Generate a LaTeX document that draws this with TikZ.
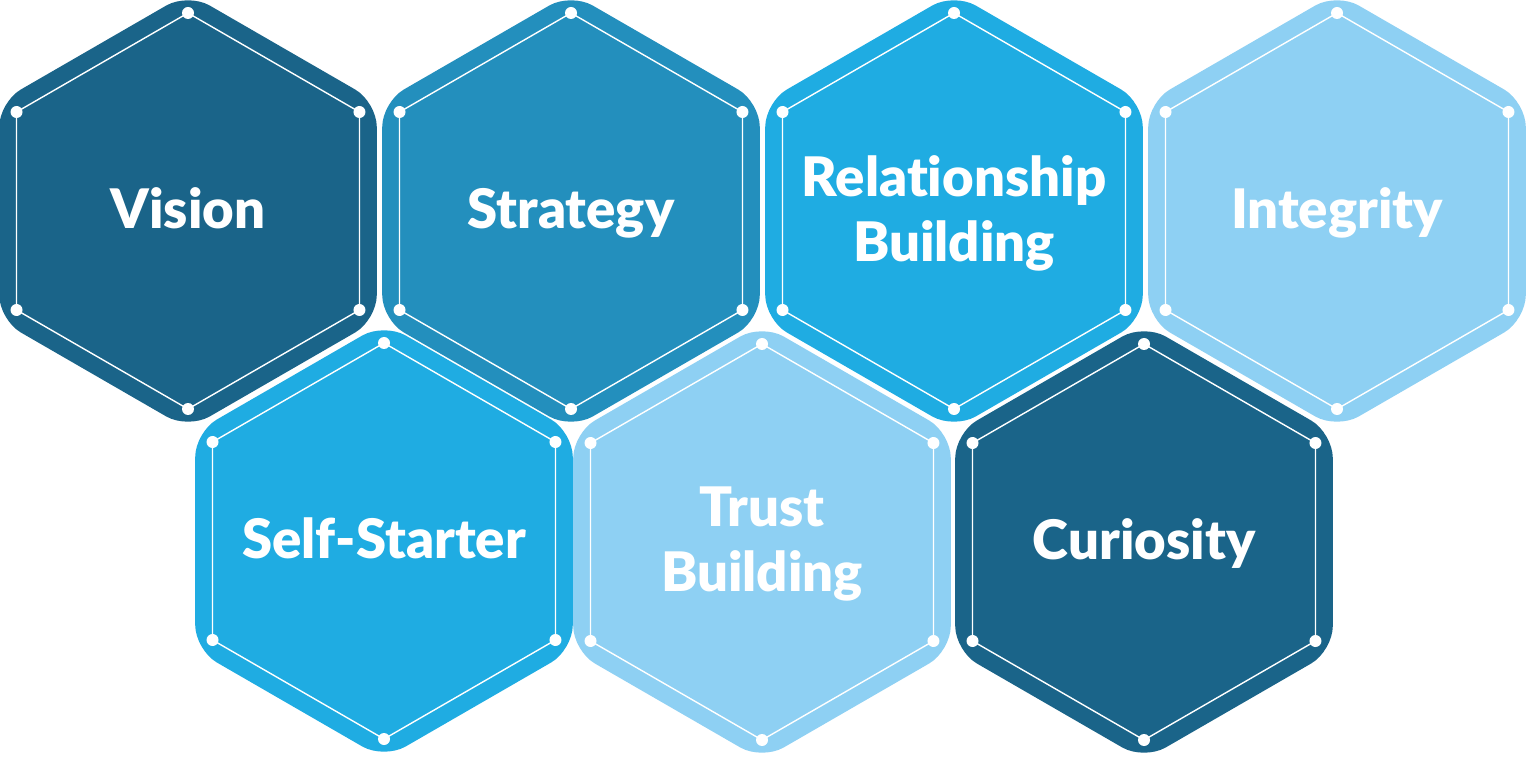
\documentclass[tikz,border=0pt]{standalone}
\usepackage{fontspec}
\setmainfont{Lato}[BoldFont={Lato Black}, Ligatures={NoCommon}]
\usepackage{xcolor}

\definecolor{hexdark}{HTML}{1A6489}
\definecolor{hexmid}{HTML}{238FBD}
\definecolor{hexbright}{HTML}{1FACE2}
\definecolor{hexlight}{HTML}{8ED0F3}

\begin{document}
\begin{tikzpicture}[
					outerhex/.style={rounded corners=5mm},
					innerhex/.style={draw=white, line width=0.8pt},
					hexdot/.style={fill=white},
					celltext/.style={text=white, font=\bfseries\fontsize{31}{37}\selectfont, align=center, text depth=0pt, inner sep=0pt}]
					\useasboundingbox (0,0) rectangle (30.6,15.12);
					
					\foreach \name/\x/\y/\col/\txt in {
						vision/3.76/10.90/hexdark/{Vision},
						strategy/11.42/10.90/hexmid/{Strategy},
						relation/19.08/10.90/hexbright/{Relationship\\Building},
						integrity/26.74/10.90/hexlight/{Integrity},
						selfstart/7.68/4.30/hexbright/{Self-Starter},
						trust/15.24/4.28/hexlight/{Trust\\Building},
						curiosity/22.88/4.28/hexdark/{Curiosity}} {
						\begin{scope}[shift={(\x,\y)}]
							\fill[\col, outerhex] (90:4.36) -- (150:4.36) -- (210:4.36) -- (270:4.36) -- (330:4.36) -- (30:4.36) -- cycle;
							\draw[innerhex] (90:3.96) -- (150:3.96) -- (210:3.96) -- (270:3.96) -- (330:3.96) -- (30:3.96) -- cycle;
							\foreach \a in {30,90,...,330}
								\fill[hexdot] (\a:3.96) circle (0.12);
							\node[celltext] (\name) at (0,0.05) {\txt};
						\end{scope}
					}
				\end{tikzpicture}
\end{document}
